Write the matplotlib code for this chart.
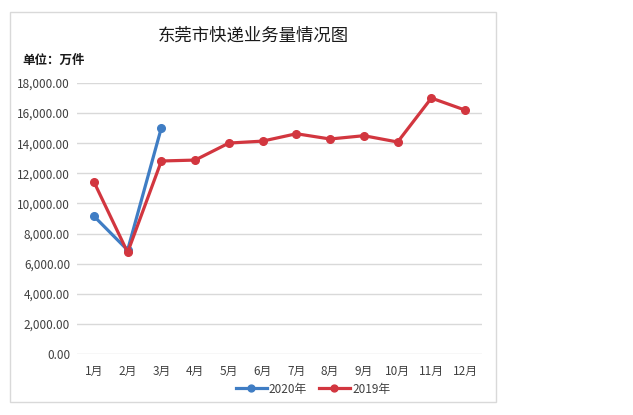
import matplotlib
matplotlib.use("Agg")
import matplotlib.pyplot as plt
from matplotlib.patches import Rectangle
from matplotlib.ticker import FuncFormatter

plt.rcParams['font.family'] = ['Noto Sans CJK SC', 'DejaVu Sans']

months = ['1月', '2月', '3月', '4月', '5月', '6月', '7月', '8月', '9月', '10月', '11月', '12月']
values_2020 = [9160, 6900, 15030]
values_2019 = [11440, 6750, 12820, 12880, 14010, 14140, 14630, 14280, 14500, 14080, 17000, 16200]
y_ticks = [0, 2000, 4000, 6000, 8000, 10000, 12000, 14000, 16000, 18000]

W, H = 633, 415
fig = plt.figure(figsize=(W / 100, H / 100), dpi=100)
fig.patch.set_facecolor('white')

# outer chart border
fig.patches.append(Rectangle((10 / W, 1 - 402 / H), 486 / W, 390 / H,
                             transform=fig.transFigure, fill=False,
                             edgecolor='#d9d9d9', linewidth=1.0))

ax = fig.add_axes([77 / W, 1 - 354 / H, 405 / W, 271 / H])
blue = '#3f7dc4'
red = '#d2363f'
x = list(range(len(months)))
ax.plot(x[:len(values_2020)], values_2020, color=blue, linewidth=2.3,
        marker='o', markersize=5.5, label='2020年', zorder=3)
ax.plot(x, values_2019, color=red, linewidth=2.3,
        marker='o', markersize=5.5, label='2019年', zorder=4)

ax.set_xlim(-0.5, len(months) - 0.5)
ax.set_ylim(0, 18000)
ax.set_yticks(y_ticks)
ax.yaxis.set_major_formatter(FuncFormatter(lambda v, p: f'{v:,.2f}'))
ax.set_xticks(x)
ax.set_xticklabels(months)
ax.grid(axis='y', color='#d9d9d9', linewidth=1.0)
ax.set_axisbelow(True)
for s in ax.spines.values():
    s.set_visible(False)
ax.tick_params(axis='both', length=0, labelsize=8.5, labelcolor='#404040')
ax.tick_params(axis='x', pad=8)
ax.tick_params(axis='y', pad=5)

fig.text(253 / W, 1 - 36 / H, '东莞市快递业务量情况图', ha='center', va='center',
         fontsize=12.5, color='#1a1a1a')
fig.text(22 / W, 1 - 60 / H, '单位：万件', ha='left', va='center',
         fontsize=9, fontweight='bold', color='#1a1a1a')

fig.legend(loc='center', bbox_to_anchor=(313 / W, 1 - 389 / H), ncol=2,
           frameon=False, fontsize=8.5, handlelength=2.6, handletextpad=0.2,
           columnspacing=1.0, labelcolor='#404040', markerscale=0.9)

fig.savefig('out.png', dpi=100, facecolor='white')
